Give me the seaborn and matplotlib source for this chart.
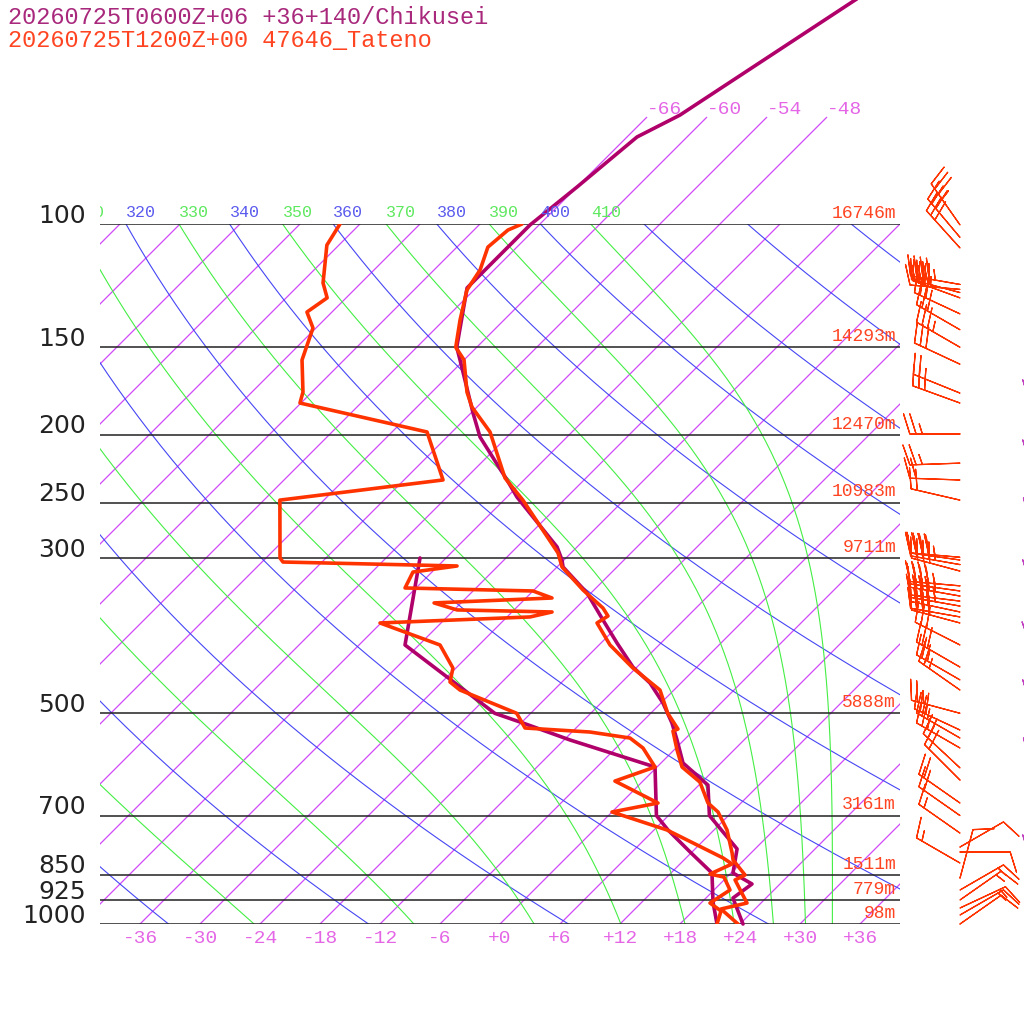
import numpy as np
import matplotlib
matplotlib.use("Agg")
import matplotlib.pyplot as plt
import matplotlib.transforms as mtransforms
import pandas as pd
import seaborn as sns

# ---- sounding data ----
# Tateno observation
obs_t_p = [100.0, 102.0, 107.9, 116.3, 124.3, 137.1, 150.0, 156.4, 173.8, 182.6, 198.2,
           230.6, 248.0, 295.1, 309.0, 333.3, 353.7, 363.1, 371.5, 399.4, 430.9, 463.2,
           500.0, 526.6, 530.1, 564.1, 596.6, 627.0, 671.7, 691.8, 734.0, 791.5, 810.0,
           851.1, 865.1, 933.3, 951.9, 1000.0]
obs_t = [-67.8, -68.6, -68.9, -67.4, -66.7, -64.4, -62.1, -60.0, -56.5, -54.5, -50.2,
         -44.1, -40.1, -31.3, -29.5, -25.1, -21.3, -20.0, -20.4, -16.9, -12.3, -7.4,
         -4.3, -1.7, -2.0, 0.3, 2.5, 5.8, 8.7, 10.6, 13.3, 16.1, 16.9,
         19.6, 19.1, 22.6, 20.6, 23.8]
obs_td_p = [100.0, 107.2, 121.4, 127.5, 133.6, 140.8, 156.4, 173.8, 180.2, 198.2, 232.1,
            248.0, 300.0, 304.0, 308.0, 314.2, 331.1, 334.4, 342.2, 347.8, 355.9, 358.3,
            364.2, 371.5, 399.4, 430.9, 451.1, 463.2, 500.0, 524.8, 531.8, 542.4, 560.5,
            596.6, 624.9, 671.7, 691.8, 734.0, 804.7, 820.8, 848.5, 856.9, 894.2, 933.3,
            958.1, 1000.0]
obs_td = [-86.0, -85.2, -81.8, -79.9, -80.5, -78.3, -76.2, -72.9, -72.1, -56.5, -50.1,
          -64.4, -58.6, -57.9, -40.1, -43.9, -43.1, -30.0, -27.4, -38.7, -35.7, -26.0,
          -27.7, -42.1, -33.9, -30.3, -29.2, -27.4, -19.4, -17.1, -10.2, -5.6, -3.3,
          -0.2, -2.8, 3.7, 0.0, 7.3, 15.7, 17.2, 16.0, 17.7, 19.6, 18.9,
          20.8, 21.7]

# Chikusei model
mdl_t_p = [40.0, 47.9, 64.4, 69.9, 75.1, 80.2, 88.6, 100.3, 108.2, 123.4, 150.0, 156.4,
           186.2, 201.5, 232.1, 245.5, 289.3, 302.0, 309.0, 336.6, 367.9, 396.8, 429.5,
           452.6, 483.4, 516.3, 545.9, 588.8, 633.2, 700.0, 781.2, 845.6, 876.7, 918.2,
           1000.0]
mdl_t = [-53.7, -56.9, -61.6, -62.9, -65.0, -65.4, -66.0, -66.9, -66.9, -66.9, -62.0, -60.4,
         -53.8, -50.7, -43.7, -41.0, -32.0, -30.2, -29.4, -24.4, -20.1, -16.4, -12.4,
         -9.1, -5.8, -2.9, -0.7, 2.2, 6.9, 10.1, 16.2, 18.2, 21.2, 20.7,
         24.3]
mdl_td_p = [300.0, 399.4, 500.0, 516.3, 545.9, 596.6, 700.0, 734.0, 789.0, 845.6, 930.2, 1000.0]
mdl_td = [-44.6, -37.4, -21.6, -17.8, -11.4, -0.2, 4.8, 7.4, 11.8, 16.1, 19.1, 21.7]

# standard levels and heights
std_p = [100, 150, 200, 250, 300, 500, 700, 850, 925, 1000]
std_hgt = [16746, 14293, 12470, 10983, 9711, 5888, 3161, 1511, 779, 98]

# Tateno winds (direction deg, speed kt)
obs_wind_p = [100.3, 104.5, 108.2, 122.0, 124.0, 125.3, 127.5, 134.4, 141.6, 150.0, 158.6,
              174.4, 180.2, 199.5, 219.6, 232.1, 248.0, 299.3, 302.0, 306.6, 313.2, 328.8,
              334.4, 340.0, 345.7, 351.4, 358.3, 364.2, 371.5, 399.4, 429.5, 448.0, 463.2,
              500.0, 528.3, 542.4, 560.5, 598.4, 622.8, 671.7, 700.0, 741.5, 776.3, 789.0,
              818.2, 859.8, 894.2, 924.0, 948.7, 970.8, 1000.0]
obs_wind_dir = [325, 320, 318, 280, 275, 285, 290, 295, 300, 300, 295,
                292, 290, 270, 268, 272, 283, 275, 278, 280, 285, 275,
                278, 280, 277, 280, 282, 280, 285, 297, 300, 300, 305,
                285, 295, 300, 300, 313, 315, 305, 305, 305, 60, 90,
                300, 15, 60, 55, 65, 60, 55]
obs_wind_spd = [35, 30, 30, 45, 40, 40, 35, 30, 30, 35, 30,
                25, 25, 25, 25, 20, 20, 40, 45, 45, 40, 45,
                45, 45, 45, 45, 40, 40, 35, 30, 30, 25, 25,
                25, 30, 25, 25, 20, 20, 20, 20, 15, 10, 10,
                15, 10, 15, 15, 15, 15, 10]

# Chikusei winds (mostly off the right edge)
mdl_wind_p = [122.0, 147.9, 178.4, 217.4, 264.8, 322.5, 392.9, 478.6, 583.2, 797.0]
mdl_wind_dir = [275, 275, 270, 270, 272, 270, 268, 270, 272, 270]
mdl_wind_spd = [40, 40, 35, 35, 35, 40, 30, 25, 20, 15]

# reference lines
isotherms = list(range(-108, 37, 6))
isotherm_labels = [-66, -60, -54, -48]
dry_thetas = list(range(200, 521, 20))
dry_labels = [320, 340, 360, 380, 400]
moist_thetaes = list(range(170, 411, 20))
moist_labels = [310, 330, 350, 370, 390, 410]
xtick_t = list(range(-36, 37, 6))

SKEW = 70.0
PURPLE = "#b0006a"
RED = "#ff3300"
ISO_C = "#d048f8"
ISO_LBL = "#e466e6"
BLUE = "#4646f4"
GREEN = "#44ee44"


def skew_x(t, p):
    return np.asarray(t, dtype=float) + SKEW * np.log10(1000.0 / np.asarray(p, dtype=float))


def moist_adiabats(thetaes, plev):
    tgrid = np.linspace(-220, 45, 5000)
    tk = tgrid[None, :] + 273.15
    pp = plev[:, None]
    es = 6.112 * np.exp(17.67 * tgrid[None, :] / (tgrid[None, :] + 243.5))
    es = np.minimum(es, 0.5 * pp)
    r = 622.0 * es / (pp - es)
    th = tk * (1000.0 / pp) ** (0.2854 * (1 - 0.00028 * r)) * \
        np.exp((3.376 / tk - 0.00254) * r * (1 + 0.00081 * r))
    th = np.maximum.accumulate(th, axis=1)
    return {te: np.array([np.interp(te, th[i], tgrid) for i in range(len(plev))])
            for te in thetaes}


sns.set_theme(style="white")
plt.rcParams['font.family'] = ['Liberation Mono', 'DejaVu Sans Mono', 'DejaVu Sans']

fig = plt.figure(figsize=(10.24, 10.24), dpi=100)
ax = fig.add_axes([100 / 1024, 100 / 1024, 800 / 1024, 700 / 1024])
ax.set_yscale('log')
ax.set_ylim(1000, 100)
ax.set_xlim(-40, 40)
for s in ax.spines.values():
    s.set_visible(False)
ax.set_yticks([])
ax.yaxis.set_minor_locator(matplotlib.ticker.NullLocator())

blend = mtransforms.blended_transform_factory(ax.transAxes, ax.transData)
plev = np.logspace(3, 2, 200)

# isotherms
for t in isotherms:
    ax.plot(skew_x([t, t], [1000, 100]), [1000, 100], color=ISO_C, lw=0.9)
for t in isotherm_labels:
    ax.plot(skew_x([t, t], [100, 70.4]), [100, 70.4], color=ISO_C, lw=0.9, clip_on=False)
    ax.text(skew_x(t, 70.4), 68.7, f"{t:d}", color=ISO_LBL, fontsize=14,
            ha='left', va='center', clip_on=False)

clipbox = mtransforms.TransformedBbox(mtransforms.Bbox([[0, -0.5], [1, 1.5]]), ax.transAxes)


def clipped_label(x, txt, color):
    t = ax.text(x, 96.4, txt, color=color, fontsize=12, ha='left', va='center')
    t.set_clip_path(None)
    t.set_clip_box(clipbox)
    t.set_clip_on(True)


# dry adiabats
for th in dry_thetas:
    tt = th * (plev / 1000.0) ** 0.2857 - 273.15
    ax.plot(skew_x(tt, plev), plev, color=BLUE, lw=0.8)
    if th in dry_labels:
        clipped_label(skew_x(th * 0.1 ** 0.2857 - 273.15, 100), f"{th}", "#5a5aee")

# moist adiabats
madiab = moist_adiabats(moist_thetaes, plev)
for te, tt in madiab.items():
    ax.plot(skew_x(tt, plev), plev, color=GREEN, lw=0.8)
    if te in moist_labels:
        clipped_label(skew_x(tt[-1], 100), f"{te}", "#5ee85e")

# pressure lines and labels
for p, h in zip(std_p, std_hgt):
    ax.axhline(p, color="#222222", lw=1.1)
    ax.annotate(f"{p}", xy=(0, p), xycoords=blend, xytext=(-10, 6), textcoords='offset points',
                ha='right', va='center', fontsize=18, family='DejaVu Sans', color='#222222',
                annotation_clip=False)
    ax.annotate(f"{h}m", xy=(0.995, p), xycoords=blend, xytext=(0, 1.5),
                textcoords='offset points', ha='right', va='bottom', fontsize=13,
                color="#ff4422", annotation_clip=False)

# profiles
obs_t_df = pd.DataFrame({'x': skew_x(obs_t, obs_t_p), 'p': obs_t_p})
obs_td_df = pd.DataFrame({'x': skew_x(obs_td, obs_td_p), 'p': obs_td_p})
mdl_t_df = pd.DataFrame({'x': skew_x(mdl_t, mdl_t_p), 'p': mdl_t_p})
mdl_td_df = pd.DataFrame({'x': skew_x(mdl_td, mdl_td_p), 'p': mdl_td_p})

sns.lineplot(data=mdl_td_df, x='x', y='p', sort=False, estimator=None, color=PURPLE, lw=2.6, ax=ax)
sns.lineplot(data=mdl_t_df, x='x', y='p', sort=False, estimator=None, color=PURPLE, lw=2.6,
             ax=ax, clip_on=False)
sns.lineplot(data=obs_td_df, x='x', y='p', sort=False, estimator=None, color=RED, lw=2.6, ax=ax)
sns.lineplot(data=obs_t_df, x='x', y='p', sort=False, estimator=None, color=RED, lw=2.6, ax=ax)


# wind barbs
def uv(d, s):
    d = np.deg2rad(np.asarray(d, dtype=float))
    s = np.asarray(s, dtype=float)
    return -s * np.sin(d), -s * np.cos(d)


u, v = uv(obs_wind_dir, obs_wind_spd)
ax.barbs(np.full(len(obs_wind_p), 1.075), obs_wind_p, u, v, transform=blend, length=8.5,
         color=RED, linewidth=0.9, clip_on=False)
u, v = uv(mdl_wind_dir, mdl_wind_spd)
ax.barbs(np.full(len(mdl_wind_p), 1.224), mdl_wind_p, u, v, transform=blend, length=8.5,
         color="#c040c0", linewidth=0.9, clip_on=False)

ax.set_ylim(1000, 100)
ax.set_xlim(-40, 40)
ax.set_xticks(xtick_t)
ax.set_xticklabels([f"{t:+d}" for t in xtick_t])
ax.tick_params(axis='x', length=0, pad=4, labelsize=14, labelcolor=ISO_LBL)
ax.set_xlabel('')
ax.set_ylabel('')

fig.text(8 / 1024, 1 - 17 / 1024, "20260725T0600Z+06 +36+140/Chikusei", color="#a8287c",
         fontsize=17, ha='left', va='center')
fig.text(8 / 1024, 1 - 41 / 1024, "20260725T1200Z+00 47646_Tateno", color="#ff4422",
         fontsize=17, ha='left', va='center')

fig.savefig("out.png", dpi=100)
